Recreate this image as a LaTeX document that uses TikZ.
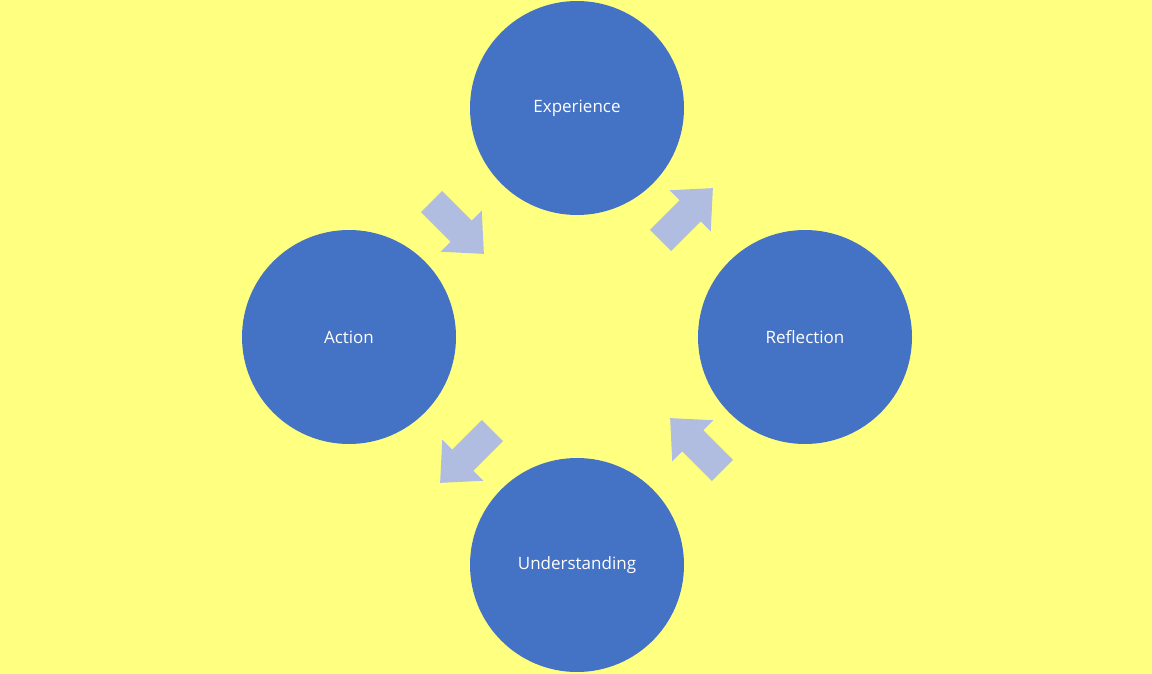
\documentclass[tikz,border=0pt]{standalone}
\usepackage{fontspec}
\setmainfont{Open Sans}
\definecolor{bg}{HTML}{FFFF80}
\definecolor{circ}{HTML}{4472C4}
\definecolor{arr}{HTML}{B0BCE0}
\begin{document}
\begin{tikzpicture}[x=1pt,y=-1pt,
  c/.style={circle,fill=circ,minimum size=214pt,inner sep=0pt,text=white,font=\fontsize{17}{20}\selectfont},
  blockarrow/.style={fill=arr}]
\fill[bg] (0,0) rectangle (1152,674);
\useasboundingbox (0,0) rectangle (1152,674);
\node[c] (exp) at (577,108) {Experience};
\node[c] (ref) at (805,337) {Reflection};
\node[c] (und) at (577,565) {Understanding};
\node[c] (act) at (349,337) {Action};
\foreach \px/\py/\r in {686/215/45, 697/445/135, 467/456/-135, 457/227/-45}{
  \begin{scope}[shift={(\px,\py)},rotate=\r]
    \fill[blockarrow] (-36,-15) -- (6,-15) -- (6,-29) -- (38,0) -- (6,29) -- (6,15) -- (-36,15) -- cycle;
  \end{scope}
}
\end{tikzpicture}
\end{document}
